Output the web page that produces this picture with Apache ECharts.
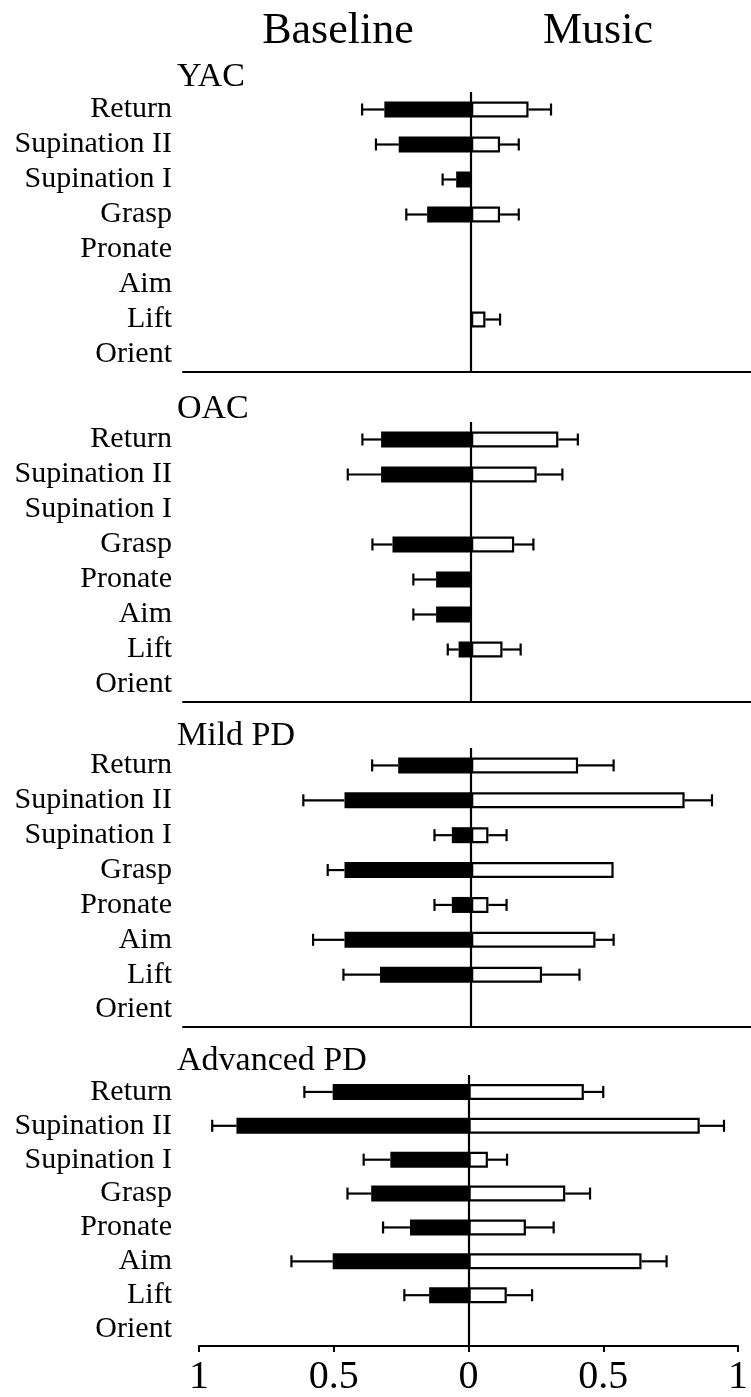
<!DOCTYPE html>
<html>
<head>
<meta charset="utf-8">
<script src="https://cdn.jsdelivr.net/npm/echarts@6/dist/echarts.min.js"></script>
<style>
html, body { margin: 0; padding: 0; background: #fff; }
#graph { width: 751px; height: 1397px; }
</style>
</head>
<body>
<div id="graph"></div>
<script>
var categories = ['Return', 'Supination II', 'Supination I', 'Grasp', 'Pronate', 'Aim', 'Lift', 'Orient'];
var groups = ['YAC', 'OAC', 'Mild PD', 'Advanced PD'];
var xTicks = [-1, -0.5, 0, 0.5, 1];

// values, null = no bar
var yacBase      = [0.320, 0.267, 0.055, 0.162, null, null, null, null];
var yacBaseErr   = [0.082, 0.084, 0.050, 0.077, null, null, null, null];
var yacMusic     = [0.212, 0.107, null, 0.107, null, null, 0.053, null];
var yacMusicErr  = [0.083, 0.069, null, 0.069, null, null, 0.054, null];

var oacBase      = [0.332, 0.332, null, 0.290, 0.129, 0.129, 0.046, null];
var oacBaseErr   = [0.069, 0.123, null, 0.074, 0.084, 0.084, 0.040, null];
var oacMusic     = [0.322, 0.242, null, 0.159, null, null, 0.116, null];
var oacMusicErr  = [0.072, 0.095, null, 0.071, null, null, 0.067, null];

var mildBase     = [0.269, 0.467, 0.071, 0.467, 0.071, 0.467, 0.336, null];
var mildBaseErr  = [0.096, 0.152, 0.064, 0.062, 0.064, 0.116, 0.135, null];
var mildMusic    = [0.395, 0.788, 0.064, 0.526, 0.064, 0.459, 0.262, null];
var mildMusicErr = [0.131, 0.101, 0.067, 0, 0.067, 0.067, 0.138, null];

var advBase      = [0.504, 0.861, 0.290, 0.361, 0.217, 0.504, 0.146, null];
var advBaseErr   = [0.105, 0.090, 0.099, 0.088, 0.100, 0.153, 0.092, null];
var advMusic     = [0.428, 0.858, 0.072, 0.359, 0.213, 0.642, 0.142, null];
var advMusicErr  = [0.072, 0.090, 0.071, 0.092, 0.103, 0.093, 0.094, null];

var panels = [
    { base: yacBase, baseErr: yacBaseErr, music: yacMusic, musicErr: yacMusicErr },
    { base: oacBase, baseErr: oacBaseErr, music: oacMusic, musicErr: oacMusicErr },
    { base: mildBase, baseErr: mildBaseErr, music: mildMusic, musicErr: mildMusicErr },
    { base: advBase, baseErr: advBaseErr, music: advMusic, musicErr: advMusicErr }
];

var FONT = '"Liberation Serif", "Times New Roman", serif';

var grids = [
    { left: 183, right: 0, top: 92, height: 280 },
    { left: 183, right: 0, top: 422, height: 280 },
    { left: 183, right: 0, top: 748, height: 279 },
    { left: 199, right: 9, top: 1075, height: 274 }
];
var titleY = [80, 412, 739, 1064];

function errorData(vals, errs, sign) {
    var out = [];
    vals.forEach(function (v, i) {
        if (v == null || !errs[i]) return;
        out.push([i, sign * v, sign * (v + errs[i])]);
    });
    return out;
}

function renderError(params, api) {
    var cat = api.value(0);
    var a = api.coord([api.value(1), cat]);
    var b = api.coord([api.value(2), cat]);
    var st = { stroke: '#000', lineWidth: 2.2 };
    return {
        type: 'group',
        children: [
            { type: 'line', shape: { x1: a[0], y1: a[1], x2: b[0], y2: b[1] }, style: st },
            { type: 'line', shape: { x1: b[0], y1: b[1] - 6, x2: b[0], y2: b[1] + 6 }, style: st }
        ]
    };
}

var xAxes = [], yAxes = [], series = [], graphics = [];

panels.forEach(function (p, i) {
    var last = i === 3;
    xAxes.push({
        type: 'value',
        gridIndex: i,
        min: last ? -1 : -1.063,
        max: last ? 1 : 1.033,
        interval: last ? 0.5 : null,
        axisLine: { show: true, onZero: false, lineStyle: { color: '#000', width: 2 } },
        axisTick: { show: last, length: 6, lineStyle: { color: '#000', width: 2 } },
        axisLabel: {
            show: last,
            color: '#000',
            fontFamily: FONT,
            fontSize: 40,
            margin: 11,
            formatter: function (v) { return String(Math.abs(v)); }
        },
        splitLine: { show: false }
    });
    yAxes.push({
        type: 'category',
        gridIndex: i,
        data: categories,
        inverse: true,
        axisLine: { show: false, onZero: false },
        axisTick: { show: false },
        axisLabel: {
            interval: 0,
            color: '#000',
            fontFamily: FONT,
            fontSize: 30,
            margin: last ? 27 : 11
        }
    });

    series.push({
        type: 'bar',
        name: 'Baseline',
        xAxisIndex: i,
        yAxisIndex: i,
        barWidth: 16,
        barGap: '-100%',
        itemStyle: { color: '#000' },
        data: p.base.map(function (v) { return v == null ? null : -v; }),
        markLine: {
            silent: true,
            symbol: 'none',
            label: { show: false },
            lineStyle: { color: '#000', width: 2.2, type: 'solid' },
            data: [{ xAxis: 0 }]
        }
    });
    series.push({
        type: 'bar',
        name: 'Music',
        xAxisIndex: i,
        yAxisIndex: i,
        barWidth: 16,
        barGap: '-100%',
        itemStyle: { color: '#fff', borderColor: '#000', borderWidth: 2.2 },
        data: p.music
    });
    series.push({
        type: 'custom',
        xAxisIndex: i,
        yAxisIndex: i,
        renderItem: renderError,
        encode: { x: [1, 2], y: 0 },
        data: errorData(p.base, p.baseErr, -1).concat(errorData(p.music, p.musicErr, 1))
    });

    graphics.push({
        type: 'text',
        left: 177,
        top: titleY[i] - 20,
        style: { text: groups[i], fontSize: 34, fontFamily: FONT, fill: '#000' }
    });
});

graphics.push({
    type: 'text', x: 338, y: 31,
    style: { text: 'Baseline', fontSize: 44, fontFamily: FONT, fill: '#000', align: 'center', verticalAlign: 'middle' }
});
graphics.push({
    type: 'text', x: 598, y: 31,
    style: { text: 'Music', fontSize: 44, fontFamily: FONT, fill: '#000', align: 'center', verticalAlign: 'middle' }
});

var chart = echarts.init(document.getElementById('graph'));
chart.setOption({
    animation: false,
    backgroundColor: '#fff',
    grid: grids,
    xAxis: xAxes,
    yAxis: yAxes,
    series: series,
    graphic: graphics
});
</script>
</body>
</html>
